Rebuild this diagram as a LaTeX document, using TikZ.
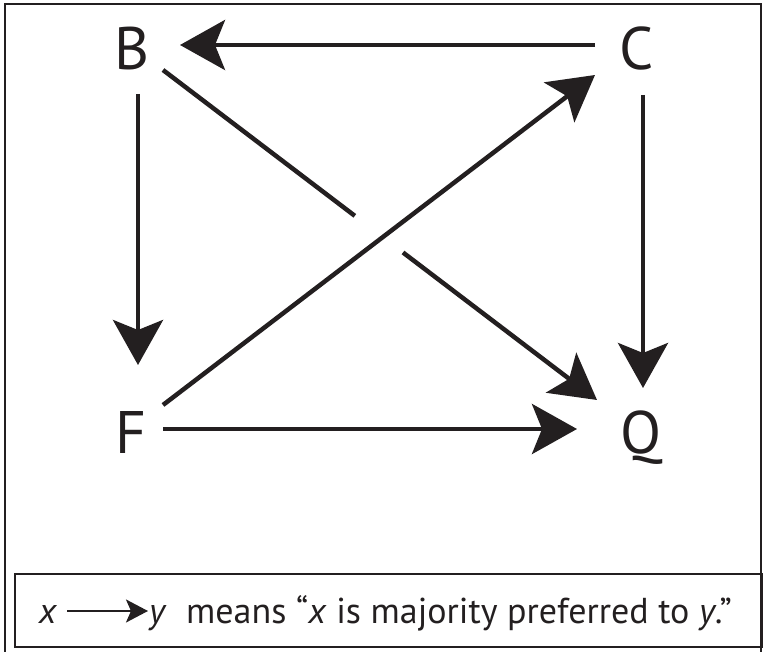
\documentclass[tikz,border=0pt]{standalone}
\usepackage{fontspec}
\setmainfont{PT Sans}
\usetikzlibrary{arrows.meta,calc}
\definecolor{ink}{HTML}{231F20}
\tikzset{
  every node/.style={text=ink},
  vtx/.style={font=\fontsize{60}{60}\selectfont,anchor=base,inner sep=0pt},
  arr/.style={-{Stealth[length=45pt,width=50pt,inset=10pt]},line width=4.5pt,draw=ink},
  keyarr/.style={-{Stealth[length=22pt,width=23pt,inset=5pt]},line width=2pt,draw=ink},
  keytxt/.style={font=\fontsize{36}{40}\selectfont,anchor=base,inner sep=0pt},
  frame/.style={draw=ink,line width=2.5pt}
}
\begin{document}
\begin{tikzpicture}[x=1pt,y=-1pt]
  \path[use as bounding box] (0,0) rectangle (763,652);
  \draw[frame] (5,655) -- (5,4) -- (761,4) -- (761,655);

  % alternatives
  \node[vtx] (B) at (132,70) {B};
  \node[vtx] (C) at (637,70) {C};
  \node[vtx] (F) at (131,453) {F};
  \node[vtx] (Q) at (641,453) {Q};

  \draw[arr] ([shift={(-42,-25)}]C.base) -- ([shift={(48,-25)}]B.base);
  \draw[arr] ([shift={(6,24)}]B.base) -- ([shift={(7,-88)}]F.base);
  \draw[arr] ([shift={(6,25)}]C.base) -- ([shift={(2,-65)}]Q.base);
  \draw[arr] ([shift={(32,-24)}]F.base) -- ([shift={(-64,-24)}]Q.base);
  \draw[arr] ([shift={(32,-48)}]F.base) -- ([shift={(-42,5)}]C.base);
  % B to Q passes under F to C
  \coordinate (bq0) at ([shift={(31,0)}]B.base);
  \coordinate (bq1) at ([shift={(-44,-53)}]Q.base);
  \draw[line width=4.5pt,draw=ink] (bq0) -- ($(bq0)!0.442!(bq1)$);
  \draw[arr] ($(bq0)!0.553!(bq1)$) -- (bq1);

  % key
  \node[draw=ink,line width=2pt,minimum width=747pt,minimum height=73pt,anchor=north west,inner sep=0pt] (key) at (14,573) {};
  \node[keytxt] (kx) at (48,623) {\textit{x}};
  \node[keytxt] (ky) at (158,623) {\textit{y}};
  \draw[keyarr] ([shift={(19,-12)}]kx.base) -- ([shift={(-10,-12)}]ky.base);
  \node[keytxt,anchor=base west] (kmeans) at (186,623) {means “\textit{x} is majority preferred to \textit{y}.”};
\end{tikzpicture}
\end{document}
